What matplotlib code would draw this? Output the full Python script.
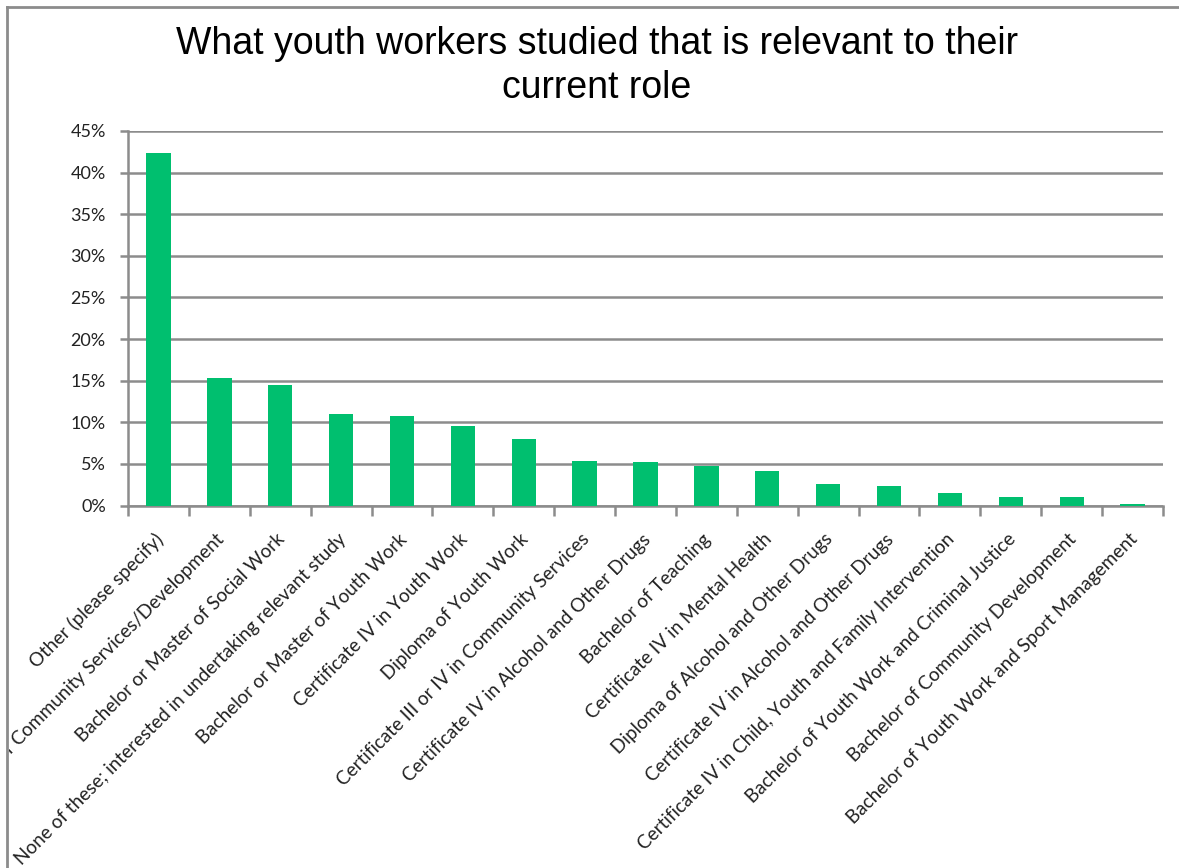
import matplotlib

matplotlib.use("Agg")
import matplotlib.pyplot as plt
from matplotlib.lines import Line2D
from matplotlib.ticker import FuncFormatter, MultipleLocator
from matplotlib.transforms import Bbox, ScaledTranslation, TransformedBbox

categories = [
    "Other (please specify)",
    "Bachelor or Master of Community Services/Development",
    "Bachelor or Master of Social Work",
    "None of these; interested in undertaking relevant study",
    "Bachelor or Master of Youth Work",
    "Certificate IV in Youth Work",
    "Diploma of Youth Work",
    "Certificate III or IV in Community Services",
    "Certificate IV in Alcohol and Other Drugs",
    "Bachelor of Teaching",
    "Certificate IV in Mental Health",
    "Diploma of Alcohol and Other Drugs",
    "Certificate IV in Alcohol and Other Drugs",
    "Certificate IV in Child, Youth and Family Intervention",
    "Bachelor of Youth Work and Criminal Justice",
    "Bachelor of Community Development",
    "Bachelor of Youth Work and Sport Management",
]
share_pct = [42.3, 15.3, 14.5, 11.0, 10.8, 9.6, 8.0, 5.4, 5.2, 4.7, 4.2,
             2.6, 2.3, 1.5, 1.0, 1.0, 0.2]
title = "What youth workers studied that is relevant to their\ncurrent role"

GREEN = "#00BF6F"
GRID = "#8C8C8C"
BODY_FONT = ["Lato", "DejaVu Sans"]

W, H = 1179, 868
fig = plt.figure(figsize=(W / 100, H / 100), dpi=100)
ax = fig.add_axes([128 / W, 1 - 505.5 / H, (1163 - 128) / W, (505.5 - 131) / H])

x = list(range(len(categories)))
ax.bar(x, share_pct, width=0.4, color=GREEN, zorder=3)

ax.set_xlim(-0.5, len(categories) - 0.5)
ax.set_ylim(0, 45)
ax.yaxis.set_major_locator(MultipleLocator(5))
ax.yaxis.set_major_formatter(FuncFormatter(lambda v, _: f"{v:.0f}%"))
ax.grid(axis="y", color=GRID, linewidth=1.8, zorder=0)
ax.set_axisbelow(True)

for side in ("top", "right"):
    ax.spines[side].set_visible(False)
for side in ("left", "bottom"):
    ax.spines[side].set_color(GRID)
    ax.spines[side].set_linewidth(1.8)

ax.tick_params(axis="y", length=6, width=1.8, color=GRID, labelsize=13,
               labelcolor="#222222", pad=10)
for lbl in ax.get_yticklabels():
    lbl.set_family(BODY_FONT)

# category ticks sit between the bars
ax.set_xticks([i - 0.5 for i in range(len(categories) + 1)])
ax.tick_params(axis="x", length=7, width=1.8, color=GRID, labelbottom=False)

# rotated category labels, clipped to the chart frame
clip = TransformedBbox(Bbox.from_extents(9 / W, 0, 1, 1), fig.transFigure)
shift = ScaledTranslation(0.02, -0.31, fig.dpi_scale_trans)
for i, name in enumerate(categories):
    t = ax.text(i, 0, name, rotation=45, rotation_mode="anchor",
                ha="right", va="center", fontsize=13.6, color="#222222",
                family=BODY_FONT,
                transform=ax.get_xaxis_transform() + shift, clip_on=True)
    t.set_clip_box(clip)

fig.text(597 / W, 1 - 66 / H, title, ha="center", va="center", fontsize=27,
         linespacing=1.25, family=["Liberation Sans", "DejaVu Sans"])

# chart frame edges
fig.add_artist(Line2D([7.5 / W, 7.5 / W], [0, 1 - 6.5 / H], color=GRID,
                      linewidth=2, transform=fig.transFigure))
fig.add_artist(Line2D([7.5 / W, 1], [1 - 6.5 / H, 1 - 6.5 / H], color=GRID,
                      linewidth=2, transform=fig.transFigure))

fig.savefig("out.png", dpi=100, facecolor="white")
